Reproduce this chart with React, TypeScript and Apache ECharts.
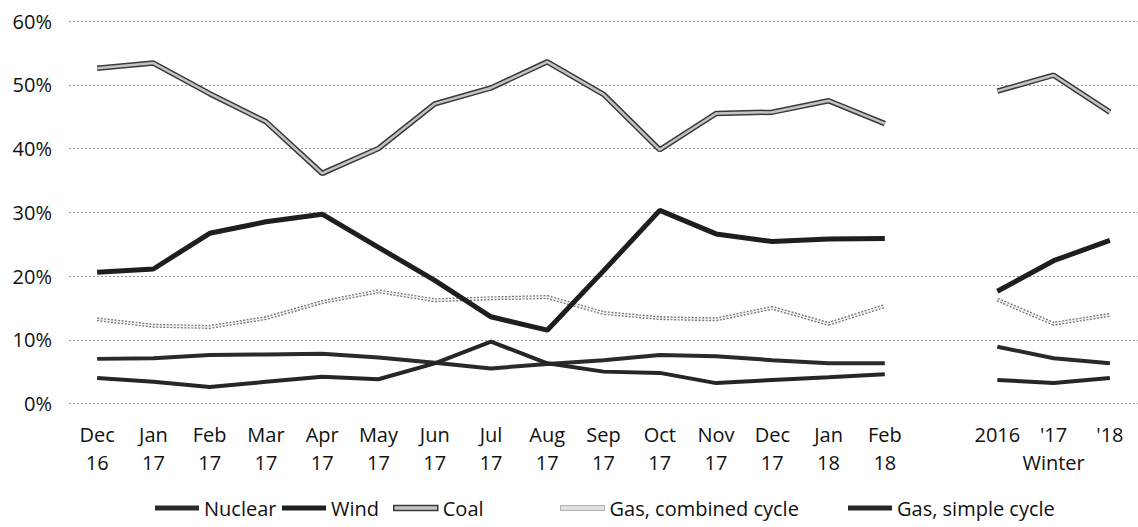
import React, { useEffect, useRef } from "react";
import * as echarts from "echarts";

const categories = [
  "Dec\n16", "Jan\n17", "Feb\n17", "Mar\n17", "Apr\n17", "May\n17", "Jun\n17", "Jul\n17",
  "Aug\n17", "Sep\n17", "Oct\n17", "Nov\n17", "Dec\n17", "Jan\n18", "Feb\n18",
  "", "2016", "'17\nWinter", "'18",
];

const nuclear = [7.0, 7.1, 7.6, 7.7, 7.8, 7.2, 6.4, 5.5, 6.2, 6.8, 7.6, 7.4, 6.8, 6.3, 6.3, null, 8.9, 7.1, 6.3];
const wind = [20.6, 21.1, 26.7, 28.5, 29.7, 24.5, 19.3, 13.6, 11.5, 20.8, 30.3, 26.6, 25.4, 25.8, 25.9, null, 17.6, 22.4, 25.6];
const coal = [52.6, 53.4, 48.6, 44.2, 36.1, 40.0, 47.0, 49.5, 53.6, 48.5, 39.8, 45.5, 45.7, 47.5, 43.9, null, 49.0, 51.5, 45.7];
const gasCombined = [13.2, 12.2, 12.0, 13.4, 15.9, 17.6, 16.2, 16.5, 16.7, 14.2, 13.4, 13.2, 15.0, 12.5, 15.3, null, 16.3, 12.5, 13.9];
const gasSimple = [4.0, 3.4, 2.6, 3.4, 4.2, 3.8, 6.3, 9.7, 6.3, 5.0, 4.8, 3.2, 3.7, 4.1, 4.6, null, 3.7, 3.2, 4.0];

const yTicks = [0, 10, 20, 30, 40, 50, 60];

const FONT = "'Open Sans', 'Noto Sans', sans-serif";

export default function App() {
  const ref = useRef<HTMLDivElement>(null);
  useEffect(() => {
    if (!ref.current) return;
    const chart = echarts.init(ref.current, undefined, { renderer: "svg" });
    const legendText = { fontFamily: FONT, fontSize: 20, color: "#111" };
    const mkLegend = (name: string, left: number, itemStyle: any) => ({
      show: true,
      left,
      top: 498,
      icon: "rect",
      itemWidth: 44,
      itemHeight: 5,
      itemGap: 0,
      padding: 0,
      textStyle: legendText,
      data: [{ name, itemStyle }],
    });
    chart.setOption({
      animation: false,
      backgroundColor: "#fff",
      grid: { left: 69, top: 21, width: 1073, height: 382.5 },
      xAxis: {
        type: "category",
        data: categories,
        boundaryGap: true,
        axisLine: { show: false },
        axisTick: { show: false },
        axisLabel: {
          interval: 0,
          margin: 17,
          fontFamily: FONT,
          fontSize: 20,
          lineHeight: 28,
          color: "#111",
        },
        splitLine: { show: false },
      },
      yAxis: {
        type: "value",
        min: yTicks[0],
        max: yTicks[yTicks.length - 1],
        interval: 10,
        axisLine: { show: false },
        axisTick: { show: false },
        axisLabel: {
          formatter: "{value}%",
          margin: 17,
          fontFamily: FONT,
          fontSize: 20,
          color: "#111",
        },
        splitLine: { lineStyle: { color: "#9a9a9a", type: [2, 2], width: 1 } },
      },
      legend: [
        mkLegend("Nuclear", 155, { color: "#2a2a2a" }),
        mkLegend("Wind", 282, { color: "#1e1e1e" }),
        mkLegend("Coal", 393, { color: "#c4c4c4", borderColor: "#3a3a3a", borderWidth: 1.5 }),
        mkLegend("Gas, combined cycle", 560, { color: "#e0e0e0", borderColor: "#777", borderWidth: 1, borderType: "dotted" }),
        mkLegend("Gas, simple cycle", 848, { color: "#262626" }),
      ],
      series: [
        {
          name: "Gas, combined cycle",
          type: "line",
          data: gasCombined,
          symbol: "none",
          color: "#777",
          lineStyle: { color: "#777", width: 4, type: [2, 1.5] },
          z: 2,
        },
        {
          name: "gcc-inner",
          type: "line",
          data: gasCombined,
          symbol: "none",
          silent: true,
          lineStyle: { color: "#eeeeee", width: 1.4 },
          z: 3,
        },
        {
          name: "Nuclear",
          type: "line",
          data: nuclear,
          symbol: "none",
          color: "#2a2a2a",
          lineStyle: { color: "#2a2a2a", width: 4 },
          z: 4,
        },
        {
          name: "Gas, simple cycle",
          type: "line",
          data: gasSimple,
          symbol: "none",
          color: "#262626",
          lineStyle: { color: "#262626", width: 4 },
          z: 4,
        },
        {
          name: "Wind",
          type: "line",
          data: wind,
          symbol: "none",
          color: "#1e1e1e",
          lineStyle: { color: "#1e1e1e", width: 5 },
          z: 5,
        },
        {
          name: "Coal",
          type: "line",
          data: coal,
          symbol: "none",
          color: "#3a3a3a",
          lineStyle: { color: "#3a3a3a", width: 5.5 },
          z: 6,
        },
        {
          name: "coal-inner",
          type: "line",
          data: coal,
          symbol: "none",
          silent: true,
          lineStyle: { color: "#c4c4c4", width: 2.5 },
          z: 7,
        },
      ],
    });
    return () => chart.dispose();
  }, []);
  return (
    <div
      ref={ref}
      style={{ position: "absolute", left: 0, top: 0, width: 1138, height: 527, background: "#fff" }}
    />
  );
}
